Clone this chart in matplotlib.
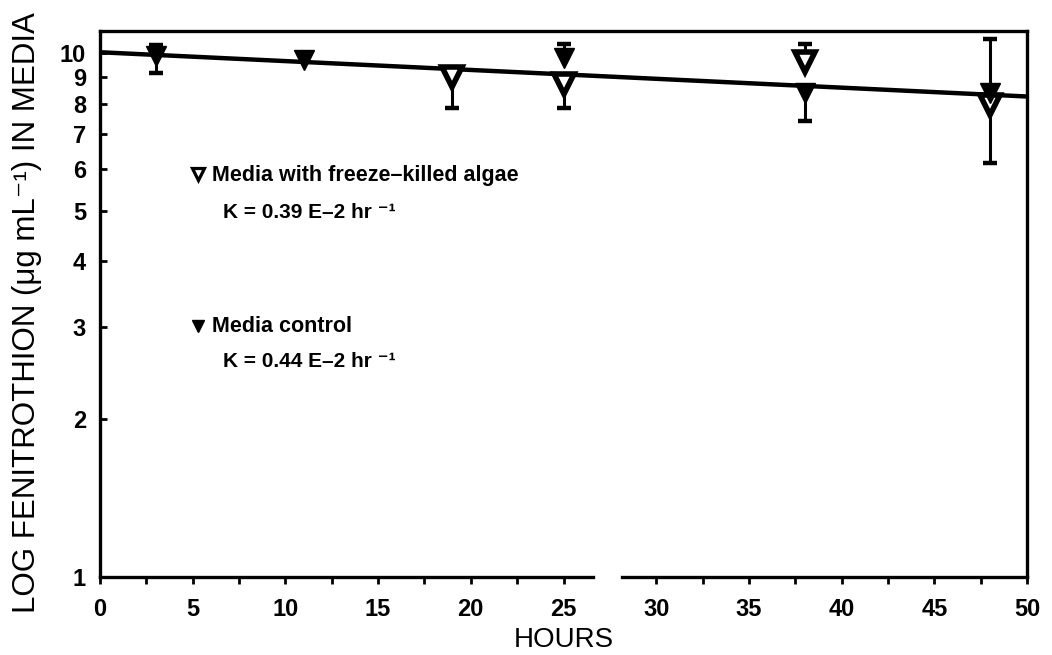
import numpy as np
import matplotlib
matplotlib.use("Agg")
import matplotlib.pyplot as plt

plt.rcParams['font.family'] = ['Liberation Sans', 'DejaVu Sans']

# values
nan = np.nan
hours_ctrl = np.array([3, 11, 25, 38, 48])
ctrl_conc = np.array([9.85, 9.67, 9.77, 8.36, 8.36])
ctrl_top = np.array([10.35, nan, 10.4, nan, nan])     # error bar ends that show
ctrl_bot = np.array([9.15, nan, nan, 7.42, nan])

hours_fk = np.array([19, 25, 38, 48])
fk_conc = np.array([8.97, 8.72, 9.6, 7.94])
fk_top = np.array([nan, nan, 10.4, 10.6])
fk_bot = np.array([7.83, 7.86, nan, 6.17])

fit_hours = [0, 50]
fit_conc = [10.02, 8.25]

y_ticks = [1, 2, 3, 4, 5, 6, 7, 8, 9, 10]
x_ticks = [0, 5, 10, 15, 20, 25, 30, 35, 40, 45, 50]
x_minor = [2.5, 7.5, 12.5, 17.5, 22.5, 32.5, 37.5, 42.5, 47.5]

fig = plt.figure(figsize=(10.52, 6.55), dpi=100)
ax = fig.add_axes([100/1052, 1 - 577/655, 927/1052, 546/655])

ax.set_yscale('log')
ax.set_xlim(0, 50)
ax.set_ylim(1, 11)

# regression line
ax.plot(fit_hours, fit_conc, color='black', lw=3.2, solid_capstyle='butt', zorder=2)

def bars(x, mid, top, bot):
    for end in (top, bot):
        ax.vlines(x, mid, end, color='black', lw=2.2, zorder=3)
        ax.plot(x, end, ls='none', marker='_', ms=10, mew=3.2, color='black', zorder=3)

bars(hours_fk, fk_conc, fk_top, fk_bot)
bars(hours_ctrl, ctrl_conc, ctrl_top, ctrl_bot)

ax.plot(hours_fk, fk_conc, ls='none', marker='v', ms=14, mfc='white',
        mec='black', mew=4, zorder=4)
ax.plot(hours_ctrl, ctrl_conc, ls='none', marker='v', ms=14, color='black', zorder=5)

# legend written as text, like the original
ax.plot([0.1055], [0.738], transform=ax.transAxes, marker='v', ms=8.5, mfc='white',
        mec='black', mew=2.3)
ax.plot([0.1055], [0.460], transform=ax.transAxes, marker='v', ms=8.5, color='black')
ax.text(0.121, 0.736, 'Media with freeze–killed algae', transform=ax.transAxes,
        fontsize=15.5, fontweight='bold', va='center')
ax.text(0.133, 0.667, 'K = 0.39 E–2 hr ⁻¹', transform=ax.transAxes,
        fontsize=15, fontweight='bold', va='center')
ax.text(0.121, 0.458, 'Media control', transform=ax.transAxes,
        fontsize=15.5, fontweight='bold', va='center')
ax.text(0.133, 0.394, 'K = 0.44 E–2 hr ⁻¹', transform=ax.transAxes,
        fontsize=15, fontweight='bold', va='center')

ax.set_yticks(y_ticks)
ax.set_yticklabels([str(v) for v in y_ticks])
ax.yaxis.set_minor_locator(matplotlib.ticker.NullLocator())
ax.set_xticks(x_ticks)
ax.set_xticks(x_minor, minor=True)

ax.tick_params(axis='y', which='both', direction='in', length=5, width=2, pad=10,
               labelsize=17)
ax.tick_params(axis='x', which='both', direction='out', length=5, width=2, pad=10,
               labelsize=17)
for lab in ax.get_xticklabels() + ax.get_yticklabels():
    lab.set_fontweight('bold')

for s in ['left', 'right', 'top']:
    ax.spines[s].set_linewidth(2.4)
# bottom axis line has a break in the scan
ax.spines['bottom'].set_visible(False)
ax.plot([0, 0.532], [0, 0], transform=ax.transAxes, color='black', lw=2.4,
        clip_on=False, zorder=6)
ax.plot([0.563, 1], [0, 0], transform=ax.transAxes, color='black', lw=2.4,
        clip_on=False, zorder=6)

ax.set_ylabel('LOG FENITROTHION (μg mL⁻¹) IN MEDIA', fontsize=22.5, va='center')
ax.yaxis.set_label_coords(-0.079, 0.4835)
ax.set_xlabel('HOURS', fontsize=20, va='center')
ax.xaxis.set_label_coords(0.5, -0.115)

fig.savefig('out.png', dpi=100)
